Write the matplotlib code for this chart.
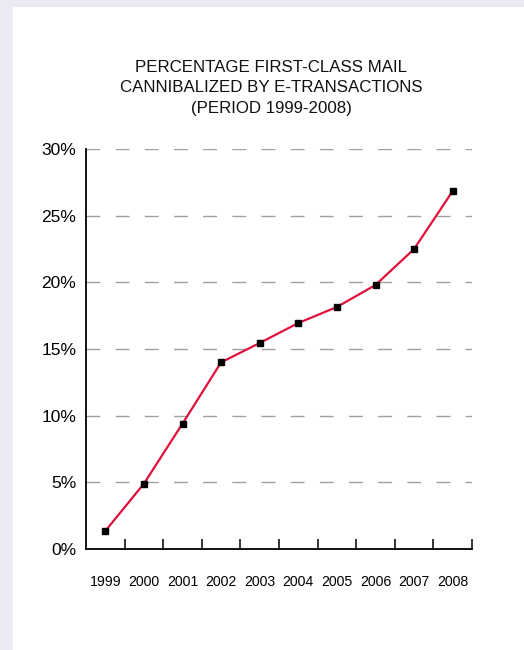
import matplotlib.pyplot as plt
from matplotlib.patches import Rectangle
from matplotlib.ticker import FuncFormatter

plt.rcParams['font.family'] = ['Liberation Sans', 'DejaVu Sans']

years = ['1999', '2000', '2001', '2002', '2003', '2004', '2005', '2006', '2007', '2008']
pct = [1.35, 4.9, 9.4, 14.0, 15.45, 16.95, 18.15, 19.8, 22.5, 26.85]
y_ticks = [0, 5, 10, 15, 20, 25, 30]

title = "PERCENTAGE FIRST-CLASS MAIL\nCANNIBALIZED BY E-TRANSACTIONS\n(PERIOD 1999-2008)"

fig = plt.figure(figsize=(5.24, 6.5), dpi=100, facecolor='#ebebf4')
# white panel
fig.patches.append(Rectangle((13 / 524, 0), 1, 1 - 7 / 650, transform=fig.transFigure,
                             facecolor='white', edgecolor='none', zorder=-5))

ax = fig.add_axes([86 / 524, 1 - 549 / 650, (472 - 86) / 524, 400 / 650])
ax.set_facecolor('none')
ax.set_zorder(2)

x = range(len(years))
ax.plot(x, pct, color='#e0103c', lw=1.6, zorder=3)
ax.plot(x, pct, ls='none', marker='s', ms=5.0, color='black', zorder=4)

ax.set_xlim(-0.5, len(years) - 0.5)
ax.set_ylim(0, 30)

# dashed gridlines
for v in y_ticks[1:]:
    ax.axhline(v, color='#a0a0a0', lw=1.0, dashes=(10, 11), zorder=1)

ax.set_yticks(y_ticks)
ax.yaxis.set_major_formatter(FuncFormatter(lambda v, p: f"{v:.0f}%"))
ax.tick_params(axis='y', length=0, pad=7, labelsize=12.5)

ax.set_xticks(list(x))
ax.set_xticklabels(years)
ax.tick_params(axis='x', which='major', length=0, pad=19, labelsize=10.2)
ax.set_xticks([i + 0.5 for i in x], minor=True)
ax.tick_params(axis='x', which='minor', direction='in', length=7.5, width=1.1, color='black')

for s in ['top', 'right']:
    ax.spines[s].set_visible(False)
for s in ['left', 'bottom']:
    ax.spines[s].set_linewidth(1.3)
    ax.spines[s].set_color('black')

fig.text(271 / 524, 1 - 88 / 650, title, ha='center', va='center', fontsize=12.2,
         linespacing=1.5, color='#111111', zorder=3)

fig.savefig('out.png', dpi=100, facecolor=fig.get_facecolor())
